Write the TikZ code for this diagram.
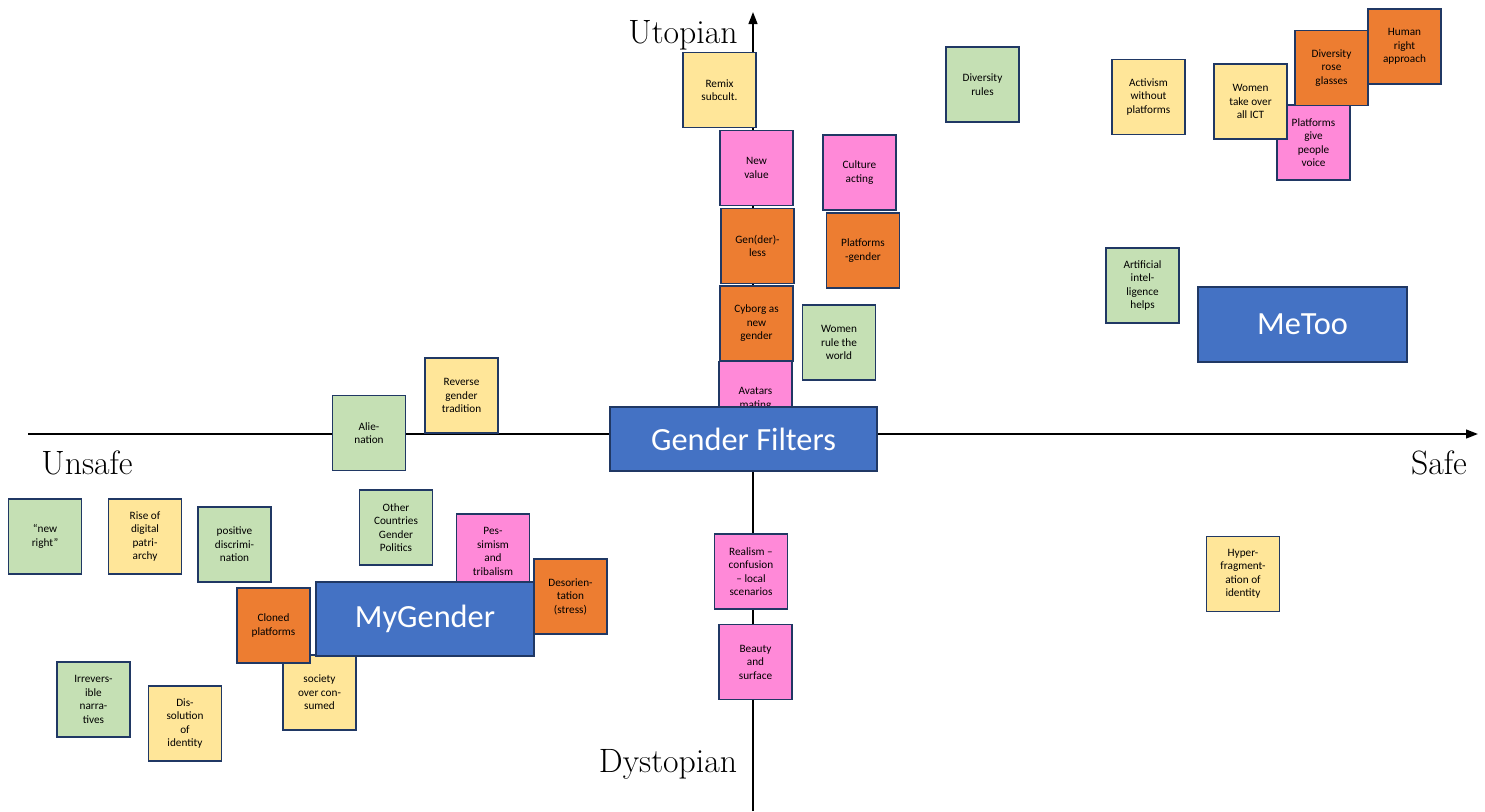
\documentclass[tikz,border=0pt]{standalone}
\usepackage{fontspec}
\newfontfamily\notefont{Carlito}
\usetikzlibrary{arrows.meta}
\definecolor{edge}{HTML}{203864}
\definecolor{Yel}{HTML}{FFE699}
\definecolor{Pnk}{HTML}{FF89D8}
\definecolor{Org}{HTML}{ED7D31}
\definecolor{Grn}{HTML}{C5E0B4}
\definecolor{Blu}{HTML}{4472C4}
\tikzset{
  note/.style={draw=edge, line width=1.1pt, minimum width=1.83cm, minimum height=1.87cm,
    inner sep=1pt, align=center, font=\notefont\fontsize{8}{9.6}\selectfont},
  big/.style={draw=edge, line width=1.1pt, fill=Blu, text=white, inner sep=1pt,
    font=\notefont\fontsize{23}{26}\selectfont},
  axis/.style={line width=1.3pt, -{Triangle[length=3mm,width=2.2mm]}},
  pole/.style={font=\fontsize{24}{27}\selectfont}
}

\begin{document}
\begin{tikzpicture}[x=0.025cm, y=-0.025cm]
\useasboundingbox (0,0) rectangle (1485,811);
\coordinate (L) at (28,434);
\coordinate (R) at (1478,434);
\coordinate (B) at (753,811);
\coordinate (T) at (753,12);

\draw[axis] (L) -- (R);
\draw[axis] (B) -- (T);

\node[pole] (UT) at (683,35) {Utopian};
\node[pole] (DY) at (668,764) {Dystopian};
\node[pole] (US) at (87,463) {Unsafe};
\node[pole] (SF) at (1439,463) {Safe};

% upper half
\node[note, fill=Yel] (RS) at (719.5,90) {Remix\\subcult.};
\node[note, fill=Pnk] (NV) at (756.5,168) {New\\value};
\node[note, fill=Pnk] (CA) at (859.5,172.5) {Culture\\acting};
\node[note, fill=Org] (GL) at (757.5,246) {Gen(der)-\\less};
\node[note, fill=Org] (PG) at (863,250.5) {Platforms\\-gender};
\node[note, fill=Org] (CG) at (756.5,323.5) {Cyborg as\\new\\gender};
\node[note, fill=Grn] (WR) at (839,342.5) {Women\\rule the\\world};
\node[note, fill=Pnk] (AM) at (755.5,399) {Avatars\\mating};
\node[note, fill=Grn] (DR) at (982.5,84.5) {Diversity\\rules};
\node[note, fill=Yel] (AW) at (1148.5,97) {Activism\\without\\platforms};
\node[note, fill=Pnk] (PV) at (1313.5,142.5) {Platforms\\give\\people\\voice};
\node[note, fill=Yel] (WT) at (1250.5,101.5) {Women\\take over\\all ICT};
\node[note, fill=Org] (DG) at (1331.5,68) {Diversity\\rose\\glasses};
\node[note, fill=Org] (HR) at (1404.5,46.5) {Human\\right\\approach};
\node[note, fill=Grn] (AI) at (1142.5,285.5) {Artificial\\intel-\\ligence\\helps};
\node[note, fill=Yel] (RG) at (461.5,395.5) {Reverse\\gender\\tradition};
\node[note, fill=Grn] (AL) at (369,433) {Alie-\\nation};

% lower half
\node[note, fill=Grn] (NR) at (45,536.5) {“new\\right”};
\node[note, fill=Yel] (DP) at (145,536.5) {Rise of\\digital\\patri-\\archy};
\node[note, fill=Grn] (PD) at (234.5,544.5) {positive\\discrimi-\\nation};
\node[note, fill=Grn] (OC) at (396,527.5) {Other\\Countries\\Gender\\Politics};
\node[note, fill=Pnk] (PT) at (493,551.5) {Pes-\\simism\\and\\tribalism};
\node[note, fill=Yel] (SO) at (319.5,692.5) {society\\over con-\\sumed};
\node[note, fill=Org] (CP) at (273.5,625.5) {Cloned\\platforms};
\node[note, fill=Org] (DS) at (570.5,596.5) {Desorien-\\tation\\(stress)};
\node[note, fill=Grn] (IN) at (93.5,699.5) {Irrevers-\\ible\\narra-\\tives};
\node[note, fill=Yel] (DI) at (185,723.5) {Dis-\\solution\\of\\identity};
\node[note, fill=Pnk] (RC) at (751,571.5) {Realism –\\confusion\\– local\\scenarios};
\node[note, fill=Pnk] (BS) at (755.5,662) {Beauty\\and\\surface};
\node[note, fill=Yel] (HF) at (1243,574) {Hyper-\\fragment-\\ation of\\identity};

% main clusters
\node[big, minimum width=6.675cm, minimum height=1.6cm] (GF) at (743.5,439) {Gender Filters};
\node[big, minimum width=5.45cm, minimum height=1.85cm] (MG) at (425,619) {MyGender};
\node[big, minimum width=5.225cm, minimum height=1.875cm] (MT) at (1302.5,324.5) {MeToo};
\end{tikzpicture}
\end{document}
